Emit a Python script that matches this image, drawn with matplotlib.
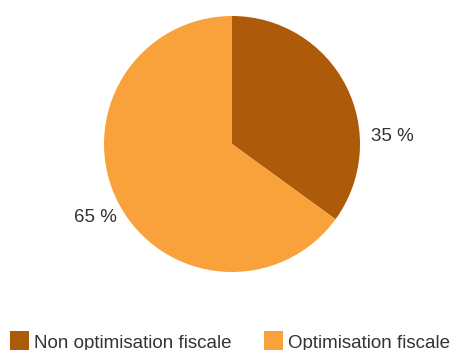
import matplotlib
matplotlib.use("Agg")
import matplotlib.pyplot as plt
from matplotlib.patches import Patch

plt.rcParams['font.family'] = ['Liberation Sans', 'DejaVu Sans']

categories = ["Non optimisation fiscale", "Optimisation fiscale"]
values = [35, 65]
colors = ["#AD5A0B", "#F9A23B"]

W, H = 454, 350
fig = plt.figure(figsize=(W / 100, H / 100), dpi=100)

cx, cy, r = 232, 144, 128
ax = fig.add_axes([(cx - r) / W, (H - cy - r) / H, 2 * r / W, 2 * r / H])
ax.pie(values, colors=colors, startangle=90, counterclock=False,
       radius=1, wedgeprops=dict(linewidth=0))
ax.set_xlim(-1, 1)
ax.set_ylim(-1, 1)
ax.set_aspect('equal')
ax.axis('off')

label_pos = [(1.25, 0.055), (-1.07, -0.578)]
for v, (x, y) in zip(values, label_pos):
    ax.text(x, y, f"{v} %", ha='center', va='center', fontsize=13.5,
            color='#333333', clip_on=False)

handles = [Patch(facecolor=c, edgecolor='none') for c in colors]
fig.legend(handles, categories, loc='upper left',
           bbox_to_anchor=(10 / W, 1 - 331 / H), ncol=2, frameon=False,
           fontsize=13.5, borderpad=0, borderaxespad=0, handlelength=1.01,
           handleheight=1.4, handletextpad=0.28, columnspacing=1.7,
           labelcolor='#333333')

fig.savefig("out.png", dpi=100, facecolor='white')
